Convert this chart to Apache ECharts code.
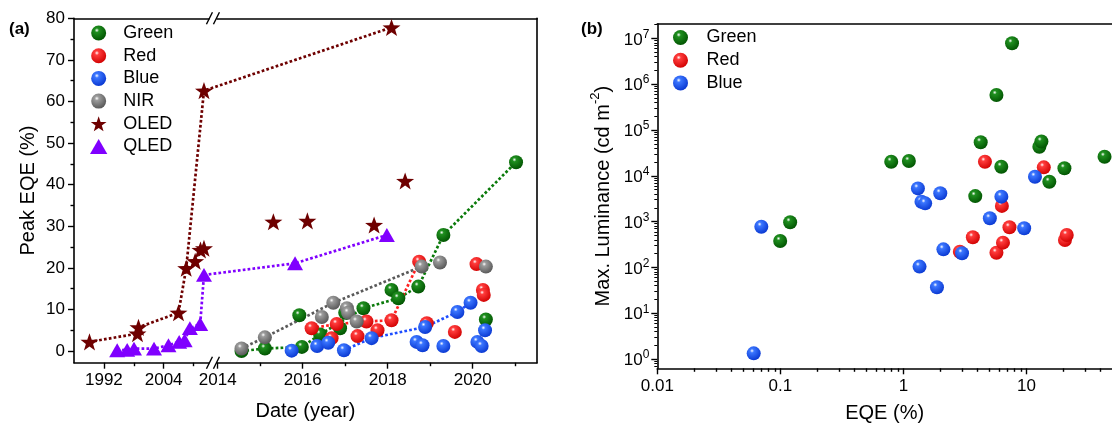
<!DOCTYPE html>
<html><head><meta charset="utf-8">
<script src="https://cdn.jsdelivr.net/npm/echarts@6/dist/echarts.min.js"></script>
<style>html,body{margin:0;padding:0;background:#fff}#c{width:1112px;height:431px}</style>
</head><body><div id="c"></div>
<script>
// ---------------- Panel (a): Peak EQE vs date (year, value %) ----------------
const seriesNamesA = ['Green', 'Red', 'Blue', 'NIR', 'OLED', 'QLED'];
const yTicksA = [0, 10, 20, 30, 40, 50, 60, 70, 80];
const yMinorTicksA = [5, 15, 25, 35, 45, 55, 65, 75];
const xMajorYearsA = [1992, 2004, 2014, 2016, 2018, 2020];
const xMinorYearsA = [1998, 2010, 2015, 2017, 2019, 2021];

const greenA = [[2014.56,0.0],[2015.11,0.6],[2015.92,8.6],[2015.98,1.0],[2016.41,4.0],[2016.88,5.5],[2017.0,9.2],[2017.43,10.3],[2018.09,14.7],[2018.25,12.7],[2018.72,15.5],[2019.31,27.9],[2020.31,7.6],[2021.02,45.4]];
const greenTrendA = [[2014.56,0.0],[2015.11,0.6],[2015.98,1.0],[2016.41,4.0],[2017.43,10.3],[2018.25,12.7],[2018.72,15.5],[2019.31,27.9],[2021.02,45.4]];
const redA = [[2016.21,5.5],[2016.68,3.1],[2016.8,6.5],[2017.29,3.6],[2017.5,7.1],[2017.76,5.0],[2018.09,7.4],[2018.74,21.5],[2018.92,6.7],[2019.58,4.6],[2020.09,20.9],[2020.24,14.7],[2020.26,13.5]];
const redTrendA = [[2016.21,5.5],[2016.8,6.5],[2017.5,7.1],[2018.09,7.4],[2018.74,21.5]];
const blueA = [[2015.74,0.1],[2016.34,1.2],[2016.6,2.0],[2016.97,0.2],[2017.62,3.1],[2018.68,2.2],[2018.82,1.4],[2018.88,5.8],[2019.31,1.2],[2019.64,9.4],[2019.95,11.6],[2020.11,2.2],[2020.21,1.2],[2020.29,5.0]];
const blueTrendA = [[2016.97,0.2],[2017.62,3.1],[2018.88,5.8],[2019.64,9.4],[2019.95,11.6]];
const nirA = [[2014.56,0.6],[2015.11,3.3],[2016.45,8.2],[2016.72,11.6],[2017.04,10.3],[2017.07,9.2],[2017.27,7.1],[2018.8,20.3],[2019.23,21.3],[2020.31,20.3]];
const nirTrendA = [[2014.56,0.6],[2015.11,3.3],[2016.72,11.6],[2018.8,20.3]];
const oledA = [[1989.11,2.2],[1998.75,4.2],[1998.95,5.7],[2006.98,9.2],[2008.53,19.9],[2010.33,21.6],[2011.4,24.3],[2012.1,24.7],[2012.1,62.6],[2015.31,31.1],[2016.11,31.3],[2017.68,30.3],[2018.09,77.8],[2018.41,40.9]];
const oledTrendA = [[1989.11,2.2],[1998.75,4.2],[1998.95,5.7],[2006.98,9.2],[2008.53,19.9],[2012.1,62.6],[2018.09,77.8]];
const qledA = [[1994.67,0.2],[1996.68,0.3],[1998.05,0.6],[2002.07,0.6],[2004.97,1.4],[2007.12,2.2],[2008.22,2.6],[2009.27,5.5],[2011.34,6.5],[2012.1,18.3],[2015.82,21.1],[2017.98,27.9]];
const qledTrendA = qledA;

// ---------------- Panel (b): Max luminance vs EQE ----------------
const seriesNamesB = ['Green', 'Red', 'Blue'];
const xTicksB = [0.01, 0.1, 1, 10];
const xTickLabelsB = ['0.01', '0.1', '1', '10'];
const yTickExpB = [0, 1, 2, 3, 4, 5, 6, 7];
const minorMultipliers = [2, 3, 4, 5, 6, 7, 8, 9];
const greenB = [[0.0996,377],[0.120,966],[0.795,2.03e4],[1.106,2.1e4],[3.83,3.6e3],[4.24,5.4e4],[5.69,5.8e5],[6.23,1.58e4],[7.62,7.8e6],[12.7,4.3e4],[13.2,5.6e4],[15.3,7.4e3],[20.3,1.46e4],[43,2.6e4]];
const redB = [[2.87,220],[3.66,454],[4.59,2.03e4],[5.69,209],[6.3,2.2e3],[6.43,347],[7.26,750],[13.8,1.53e4],[20.5,396],[21.2,510]];
const blueB = [[0.0607,1.33],[0.070,774],[1.31,5.3e3],[1.35,104],[1.40,2.72e3],[1.50,2.5e3],[1.87,36.8],[1.99,4.15e3],[2.11,248],[2.99,203],[5.03,1.18e3],[6.24,3.5e3],[9.56,714],[11.7,9.5e3]];

// ---------------- scales ----------------
// broken time axis: 1986-2013.8 compressed, 2013.9-2021.5 expanded
const tx = y => y < 2013.85 ? (y - 1986) * 4.98 : 143.7 + (y - 2014) * 42.5;
const fromTx = v => v < 139 ? 1986 + v / 4.98 : 2014 + (v - 143.7) / 42.5;
const XMAX_A = 463;
const L = Math.log10;
const mapA = arr => arr.map(p => [tx(p[0]), p[1]]);
const mapB = arr => arr.map(p => [L(p[0]), L(p[1])]);

const FONT = '"Liberation Sans", Arial, sans-serif';
const STAR = 'path://M50,0L61.8,33.8L97.6,34.5L69,56.2L79.4,90.5L50,70L20.6,90.5L31,56.2L2.4,34.5L38.2,33.8Z';
const TRI = 'path://M50,0L100,86.6L0,86.6Z';
const sphere = (mid, dark) => ({
  type: 'radial', x: 0.38, y: 0.32, r: 0.72,
  colorStops: [{offset: 0, color: '#ffffff'}, {offset: 0.2, color: mid}, {offset: 1, color: dark}]
});
const COL = {
  green: ['#1f8f1f', '#005200'], red: ['#ff3c3c', '#d00000'],
  blue: ['#3b76ff', '#0836d0'], gray: ['#9c9c9c', '#555555']
};
const LINE = {green: '#0a7a0a', red: '#ff2020', blue: '#1d4dff', gray: '#5a5a5a', oled: '#6e0000', qled: '#8000ff'};

const axLine = {onZero: false, lineStyle: {color: '#000', width: 1.6}};
const tickStyle = {color: '#000', width: 1.4};
const lbl = {color: '#000', fontSize: 17, fontFamily: FONT};

const minorB = (lo, hi, ranges) => {
  const out = [];
  ranges.forEach(n => minorMultipliers.forEach(k => {
    const v = L(k) + n; if (v > lo && v < hi) out.push(v);
  }));
  return out;
};
const XMIN_B = -2, XMAX_B = 1.694, YMIN_B = -0.203, YMAX_B = 7.314;

const xAxis = [
  {gridIndex: 0, type: 'value', position: 'bottom', min: 0, max: XMAX_A,
   axisLine: axLine, splitLine: {show: false},
   axisTick: {customValues: xMajorYearsA.map(tx), length: 6, lineStyle: tickStyle},
   axisLabel: Object.assign({customValues: xMajorYearsA.map(tx), margin: 9,
     formatter: v => String(Math.round(fromTx(v)))}, lbl),
   name: 'Date (year)', nameLocation: 'middle', nameGap: 39,
   nameTextStyle: {fontSize: 20, color: '#000', fontFamily: FONT}},
  {gridIndex: 0, type: 'value', position: 'bottom', min: 0, max: XMAX_A,
   axisLine: {show: false, onZero: false}, splitLine: {show: false},
   axisTick: {customValues: xMinorYearsA.map(tx), length: 3.5, lineStyle: tickStyle},
   axisLabel: {show: false}},
  {gridIndex: 0, type: 'value', position: 'top', min: 0, max: XMAX_A,
   axisLine: axLine, splitLine: {show: false}, axisTick: {show: false}, axisLabel: {show: false}},
  {gridIndex: 1, type: 'value', position: 'bottom', min: XMIN_B, max: XMAX_B,
   axisLine: axLine, splitLine: {show: false},
   axisTick: {customValues: xTicksB.map(L), length: 6, lineStyle: tickStyle},
   axisLabel: Object.assign({customValues: xTicksB.map(L), margin: 10,
     formatter: v => xTickLabelsB[xTicksB.findIndex(t => Math.abs(L(t) - v) < 1e-6)]}, lbl),
   name: 'EQE (%)', nameLocation: 'middle', nameGap: 35,
   nameTextStyle: {fontSize: 20, color: '#000', fontFamily: FONT}},
  {gridIndex: 1, type: 'value', position: 'bottom', min: XMIN_B, max: XMAX_B,
   axisLine: {show: false, onZero: false}, splitLine: {show: false},
   axisTick: {customValues: minorB(XMIN_B, XMAX_B, [-2, -1, 0, 1]), length: 3.5, lineStyle: tickStyle},
   axisLabel: {show: false}},
  {gridIndex: 1, type: 'value', position: 'top', min: XMIN_B, max: XMAX_B,
   axisLine: axLine, splitLine: {show: false}, axisTick: {show: false}, axisLabel: {show: false}}
];

const yAxis = [
  {gridIndex: 0, type: 'value', position: 'left', min: -2.8, max: 80,
   axisLine: axLine, splitLine: {show: false},
   axisTick: {customValues: yTicksA, length: 6, lineStyle: tickStyle},
   axisLabel: Object.assign({customValues: yTicksA, margin: 9}, lbl),
   name: 'Peak EQE (%)', nameLocation: 'middle', nameGap: 36,
   nameTextStyle: {fontSize: 20, color: '#000', fontFamily: FONT}},
  {gridIndex: 0, type: 'value', position: 'left', min: -2.8, max: 80,
   axisLine: {show: false, onZero: false}, splitLine: {show: false},
   axisTick: {customValues: yMinorTicksA, length: 3.5, lineStyle: tickStyle},
   axisLabel: {show: false}},
  {gridIndex: 0, type: 'value', position: 'right', min: -2.8, max: 80,
   axisLine: axLine, splitLine: {show: false}, axisTick: {show: false}, axisLabel: {show: false}},
  {gridIndex: 1, type: 'value', position: 'left', min: YMIN_B, max: YMAX_B,
   axisLine: axLine, splitLine: {show: false},
   axisTick: {customValues: yTickExpB, length: 6, lineStyle: tickStyle},
   axisLabel: {customValues: yTickExpB, margin: 8, color: '#000', fontFamily: FONT,
     formatter: v => '{b|10}{s|' + Math.round(v) + '}',
     rich: {b: {fontSize: 17, lineHeight: 20, verticalAlign: 'bottom', color: '#000', fontFamily: FONT},
            s: {fontSize: 12, lineHeight: 12, verticalAlign: 'top', color: '#000', fontFamily: FONT}}},
   name: '{a|Max. Luminance (cd m}{s|-2}{a|)}', nameLocation: 'middle', nameGap: 44,
   nameTextStyle: {color: '#000', fontFamily: FONT,
     rich: {a: {fontSize: 20, lineHeight: 24, verticalAlign: 'bottom', color: '#000', fontFamily: FONT},
            s: {fontSize: 13, lineHeight: 13, verticalAlign: 'top', color: '#000', fontFamily: FONT}}}},
  {gridIndex: 1, type: 'value', position: 'left', min: YMIN_B, max: YMAX_B,
   axisLine: {show: false, onZero: false}, splitLine: {show: false},
   axisTick: {customValues: minorB(YMIN_B, YMAX_B, [-1, 0, 1, 2, 3, 4, 5, 6, 7]), length: 3, lineStyle: {color: '#000', width: 1}},
   axisLabel: {show: false}}
];

const trend = (name, data, color) => ({
  name, type: 'line', xAxisIndex: 0, yAxisIndex: 0, data: mapA(data), symbol: 'none',
  silent: true, z: 2, lineStyle: {color, width: 2.7, type: [2.7, 2.2]}, animation: false
});
const scat = (name, data, xi, yi, symbol, size, color, z) => ({
  name, type: 'scatter', xAxisIndex: xi, yAxisIndex: yi, data, symbol, symbolSize: size,
  symbolKeepAspect: true, itemStyle: {color, opacity: 1}, z, animation: false
});

const series = [
  trend('green trend', greenTrendA, LINE.green),
  trend('red trend', redTrendA, LINE.red),
  trend('blue trend', blueTrendA, LINE.blue),
  trend('nir trend', nirTrendA, LINE.gray),
  trend('oled trend', oledTrendA, LINE.oled),
  trend('qled trend', qledTrendA, LINE.qled),
  scat('Green', mapA(greenA), 0, 0, 'circle', 14, sphere(...COL.green), 3),
  scat('Red', mapA(redA), 0, 0, 'circle', 14, sphere(...COL.red), 4),
  scat('Blue', mapA(blueA), 0, 0, 'circle', 14, sphere(...COL.blue), 5),
  scat('NIR', mapA(nirA), 0, 0, 'circle', 14, sphere(...COL.gray), 6),
  scat('OLED', mapA(oledA), 0, 0, STAR, 18, LINE.oled, 7),
  scat('QLED', mapA(qledA), 0, 0, TRI, 16, LINE.qled, 7),
  scat('Green', mapB(greenB), 3, 3, 'circle', 14, sphere(...COL.green), 3),
  scat('Red', mapB(redB), 3, 3, 'circle', 14, sphere(...COL.red), 4),
  scat('Blue', mapB(blueB), 3, 3, 'circle', 14, sphere(...COL.blue), 5)
];

const legendItems = names => names.map(n => ({name: n, symbolKeepAspect: true}));

const chart = echarts.init(document.getElementById('c'), null, {renderer: 'canvas'});
chart.setOption({
  animation: false,
  textStyle: {fontFamily: FONT},
  title: [
    {text: '(a)', left: 4, top: 16, textStyle: {fontSize: 17, fontWeight: 'bold', color: '#000', fontFamily: FONT}},
    {text: '(b)', left: 576, top: 16, textStyle: {fontSize: 17, fontWeight: 'bold', color: '#000', fontFamily: FONT}}
  ],
  legend: [
    {data: legendItems(seriesNamesA), orient: 'vertical', left: 90, top: 24, padding: 0,
     itemWidth: 39, itemHeight: 15, itemGap: 4.7, symbolKeepAspect: true,
     selectedMode: false, textStyle: {fontSize: 18, color: '#000', fontFamily: FONT}},
    {data: legendItems(seriesNamesB), orient: 'vertical', left: 673, top: 28.5, padding: 0,
     itemWidth: 42, itemHeight: 15, itemGap: 4.7, symbolKeepAspect: true,
     selectedMode: false, textStyle: {fontSize: 18, color: '#000', fontFamily: FONT}}
  ],
  grid: [
    {left: 74, top: 18.3, width: XMAX_A, height: 344.4},
    {left: 657.3, top: 24, width: 464, height: 344.3}
  ],
  xAxis, yAxis, series
});

// axis-break marks on the top and bottom frame of panel (a)
const bx = chart.convertToPixel({xAxisIndex: 0}, (tx(2013.8) + tx(2013.9)) / 2);
const yTop = chart.convertToPixel({yAxisIndex: 0}, 80);
const yBot = chart.convertToPixel({yAxisIndex: 0}, -2.8);
const brk = yy => [
  {type: 'rect', shape: {x: bx - 3.5, y: yy - 3, width: 7, height: 6}, style: {fill: '#fff'}, z: 100},
  {type: 'line', shape: {x1: bx - 6.5, y1: yy + 6, x2: bx - 0.5, y2: yy - 6}, style: {stroke: '#000', lineWidth: 1.4}, z: 101},
  {type: 'line', shape: {x1: bx + 0.5, y1: yy + 6, x2: bx + 6.5, y2: yy - 6}, style: {stroke: '#000', lineWidth: 1.4}, z: 101}
];
chart.setOption({graphic: [...brk(yTop), ...brk(yBot)]});
</script></body></html>
